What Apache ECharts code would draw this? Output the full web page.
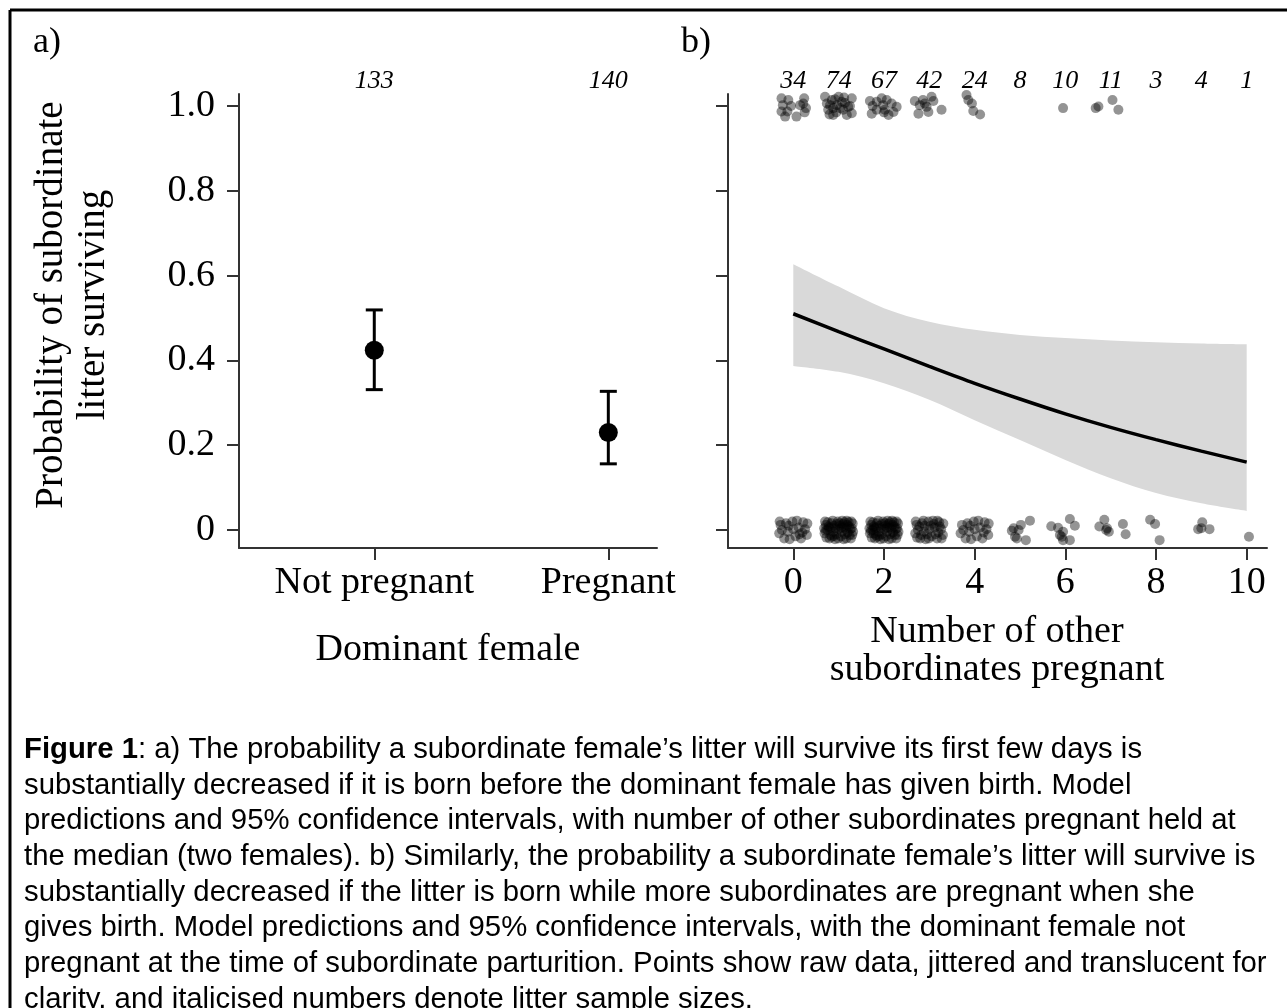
<!DOCTYPE html>
<html>
<head>
<meta charset="utf-8">
<script src="https://cdn.jsdelivr.net/npm/echarts@6/dist/echarts.min.js"></script>
<style>
  html, body { margin: 0; padding: 0; background: #fff; }
  #chart { width: 1287px; height: 1008px; }
</style>
</head>
<body>
<div id="chart"></div>
<script>
// a) dominant female status
const domCats = ['Not pregnant', 'Pregnant'];
const domSizes = [133, 140];
const domFit = [0.424, 0.230];
const domLow = [0.331, 0.156];
const domHigh = [0.519, 0.327];

// b) number of other subordinates pregnant
const otherX = [0, 1, 2, 3, 4, 5, 6, 7, 8, 9, 10];
const otherSizes = [34, 74, 67, 42, 24, 8, 10, 11, 3, 4, 1];
const fitY = [0.510, 0.468, 0.427, 0.386, 0.346, 0.309, 0.274, 0.242, 0.213, 0.186, 0.160];
const bandHigh = [0.627, 0.574, 0.523, 0.491, 0.472, 0.460, 0.453, 0.447, 0.443, 0.440, 0.438];
const bandLow = [0.387, 0.373, 0.346, 0.307, 0.259, 0.212, 0.165, 0.122, 0.087, 0.063, 0.045];

// raw data, survived litters (y ~ 1), jittered positions
const survivedPts = [
  [-0.26, 1.018], [-0.23, 1.002], [-0.26, 0.987], [-0.13, 0.987], [-0.11, 1.014], [0.07, 0.975], [0.15, 1.002],
  [0.24, 1.018], [0.28, 0.995], [0.22, 1.006], [-0.18, 0.975], [0.25, 0.985], [-0.05, 1.000],
  [0.70, 1.022], [0.74, 1.006], [0.77, 0.991], [0.85, 1.014], [0.88, 0.979], [0.96, 1.002], [1.00, 1.022],
  [1.07, 1.010], [1.10, 0.991], [1.18, 0.979], [1.29, 1.018], [1.29, 0.983], [0.81, 1.002], [1.03, 0.995],
  [0.88, 0.995], [1.14, 1.007], [1.21, 0.998], [0.92, 1.016], [0.80, 0.980], [1.25, 1.000], [0.95, 0.985], [1.12, 1.020],
  [1.69, 1.012], [1.73, 0.982], [1.84, 1.010], [1.95, 1.018], [2.02, 0.991], [2.06, 1.014], [2.17, 1.006],
  [2.21, 0.986], [2.28, 0.998], [1.84, 0.991], [2.10, 0.979], [1.98, 1.002], [2.00, 0.985], [1.75, 1.000],
  [2.68, 1.012], [2.79, 1.002], [2.86, 1.014], [2.94, 0.998], [2.98, 0.986], [2.76, 0.982], [3.05, 1.022],
  [3.09, 1.012], [3.27, 0.991], [2.90, 1.006],
  [3.82, 1.026], [3.86, 1.014], [3.94, 1.006], [3.97, 0.988], [4.12, 0.980],
  [5.95, 0.995],
  [6.67, 0.995], [6.73, 0.999], [7.04, 1.014], [7.17, 0.991]
];

// raw data, litters that died (y ~ 0): dense groups x = 0..4 use the jitter table below
const diedDense = [21, 52, 53, 32, 19];
const jitter = [
  [-0.28, 0.012], [0.05, -0.015], [0.22, 0.018], [-0.12, -0.004], [0.30, -0.012], [-0.20, -0.020],
  [0.12, 0.006], [-0.02, 0.020], [-0.31, -0.008], [0.26, 0.002], [-0.08, -0.022], [0.17, -0.020],
  [-0.16, 0.016], [0.08, 0.022], [-0.25, 0.000], [0.31, 0.015], [0.00, 0.002], [-0.10, 0.010],
  [0.20, -0.006], [-0.30, 0.020], [0.14, -0.010], [-0.22, 0.008], [0.27, -0.020], [-0.05, -0.010],
  [0.10, 0.014], [-0.18, -0.012], [0.03, 0.010], [0.23, 0.008], [-0.27, -0.018], [-0.13, 0.022],
  [0.18, 0.022], [-0.01, -0.020], [0.29, 0.004], [-0.21, 0.004], [0.07, -0.004], [-0.32, 0.004],
  [0.16, 0.002], [-0.07, 0.004], [0.24, -0.012], [-0.15, -0.016], [0.11, -0.022], [-0.24, 0.018],
  [0.02, 0.016], [0.32, -0.004], [-0.10, -0.014], [0.19, 0.012], [-0.29, -0.002], [0.06, 0.006],
  [-0.17, 0.006], [0.28, 0.020], [-0.04, 0.014], [0.13, 0.018], [-0.23, -0.008]
];
// sparse groups x = 5..10, read point by point
const diedSparse = [
  [4.82, -0.002], [4.89, -0.016], [4.93, -0.020], [5.02, 0.012], [5.13, -0.024], [5.22, 0.022], [4.86, 0.004], [4.97, 0.000],
  [5.69, 0.009], [5.84, 0.005], [5.88, -0.012], [5.92, -0.016], [5.95, -0.004], [6.10, 0.026], [6.10, -0.024], [6.21, 0.010], [5.95, -0.024],
  [6.75, 0.008], [6.86, 0.024], [6.90, 0.000], [6.96, -0.004], [7.27, 0.014], [7.33, -0.010], [6.92, 0.004],
  [7.87, 0.024], [7.98, 0.014], [8.08, -0.024],
  [8.93, 0.002], [9.02, 0.018], [9.00, 0.004], [9.18, 0.002],
  [10.05, -0.016]
];

const serif = '"Liberation Serif", "Times New Roman", serif';
const sans = '"Liberation Sans", Arial, sans-serif';
const axisColor = '#333';
const yTicks = [0, 0.2, 0.4, 0.6, 0.8, 1.0];
const Y_MIN = -0.0425, Y_MAX = 1.0283;

const rawPts = survivedPts.slice();
diedDense.forEach((n, g) => {
  for (let k = 0; k < n; k++) rawPts.push([otherX[g] + jitter[k][0], jitter[k][1]]);
});
diedSparse.forEach(p => rawPts.push(p));

const captionLines = [
  '{b|Figure 1}: a) The probability a subordinate female\u2019s litter will survive its first few days is',
  'substantially decreased if it is born before the dominant female has given birth. Model',
  'predictions and 95% confidence intervals, with number of other subordinates pregnant held at',
  'the median (two females). b) Similarly, the probability a subordinate female\u2019s litter will survive is',
  'substantially decreased if the litter is born while more subordinates are pregnant when she',
  'gives birth. Model predictions and 95% confidence intervals, with the dominant female not',
  'pregnant at the time of subordinate parturition. Points show raw data, jittered and translucent for',
  'clarity, and italicised numbers denote litter sample sizes.'
];

// smooth edge through pixel points (Catmull-Rom as cubic bezier segments)
function curveTo(pts) {
  let d = '';
  for (let i = 0; i < pts.length - 1; i++) {
    const p0 = pts[i - 1] || pts[i], p1 = pts[i], p2 = pts[i + 1], p3 = pts[i + 2] || pts[i + 1];
    const c1 = [p1[0] + (p2[0] - p0[0]) / 6, p1[1] + (p2[1] - p0[1]) / 6];
    const c2 = [p2[0] - (p3[0] - p1[0]) / 6, p2[1] - (p3[1] - p1[1]) / 6];
    d += ` C${c1[0]},${c1[1]} ${c2[0]},${c2[1]} ${p2[0]},${p2[1]}`;
  }
  return d;
}

const chart = echarts.init(document.getElementById('chart'), null, { renderer: 'canvas' });

const bottomX = (gridIndex, min, max, values, fmt) => ({
  gridIndex, type: 'value', min, max, position: 'bottom',
  axisLine: { show: true, onZero: false, lineStyle: { color: axisColor, width: 2 } },
  axisTick: { show: true, length: 12, customValues: values, lineStyle: { color: axisColor, width: 2 } },
  axisLabel: { customValues: values, formatter: fmt, margin: 16, color: '#000', fontFamily: serif, fontSize: 38 },
  splitLine: { show: false }
});
const topX = (gridIndex, min, max, values, fmt) => ({
  gridIndex, type: 'value', min, max, position: 'top',
  axisLine: { show: false }, axisTick: { show: false },
  axisLabel: { customValues: values, formatter: fmt, margin: 0, color: '#000', fontFamily: serif, fontSize: 26, fontStyle: 'italic' },
  splitLine: { show: false }
});
const yAx = (gridIndex, showLabels) => ({
  gridIndex, type: 'value', min: Y_MIN, max: Y_MAX,
  axisLine: { show: true, onZero: false, lineStyle: { color: axisColor, width: 2 } },
  axisTick: { show: true, length: 12, customValues: yTicks, lineStyle: { color: axisColor, width: 2 } },
  axisLabel: { show: showLabels, customValues: yTicks, margin: 24, color: '#000', fontFamily: serif, fontSize: 38,
    formatter: v => (v === 0 ? '0' : v.toFixed(1)) },
  splitLine: { show: false }
});

chart.setOption({
  backgroundColor: '#fff',
  animation: false,
  grid: [
    { left: 239, top: 94, width: 418, height: 454 },
    { left: 728, top: 94, width: 539, height: 454 }
  ],
  xAxis: [
    bottomX(0, 0.422, 2.208, [1, 2], v => domCats[Math.round(v) - 1]),
    bottomX(1, -1.44, 10.448, [0, 2, 4, 6, 8, 10], v => String(v)),
    topX(0, 0.422, 2.208, [1, 2], v => String(domSizes[Math.round(v) - 1])),
    topX(1, -1.44, 10.448, otherX, v => String(otherSizes[Math.round(v)]))
  ],
  yAxis: [yAx(0, true), yAx(1, false)],
  series: [
    {
      type: 'custom', xAxisIndex: 0, yAxisIndex: 0, silent: true,
      data: domCats.map((c, i) => [i + 1, domLow[i], domHigh[i]]),
      renderItem(params, api) {
        const lo = api.coord([api.value(0), api.value(1)]);
        const hi = api.coord([api.value(0), api.value(2)]);
        const w = 8.5, st = { stroke: '#000', lineWidth: 3 };
        return { type: 'group', children: [
          { type: 'line', shape: { x1: lo[0], y1: lo[1], x2: hi[0], y2: hi[1] }, style: st },
          { type: 'line', shape: { x1: lo[0] - w, y1: lo[1], x2: lo[0] + w, y2: lo[1] }, style: st },
          { type: 'line', shape: { x1: hi[0] - w, y1: hi[1], x2: hi[0] + w, y2: hi[1] }, style: st }
        ] };
      }
    },
    {
      type: 'scatter', xAxisIndex: 0, yAxisIndex: 0, silent: true, z: 5,
      symbol: 'circle', symbolSize: 19, itemStyle: { color: '#000', opacity: 1 },
      data: domFit.map((v, i) => [i + 1, v])
    },
    {
      // 95% CI band: upper edge left to right, lower edge back
      type: 'custom', xAxisIndex: 1, yAxisIndex: 1, silent: true, z: 1,
      data: [0],
      renderItem(params, api) {
        const up = otherX.map((x, i) => api.coord([x, bandHigh[i]]));
        const lo = otherX.map((x, i) => api.coord([x, bandLow[i]])).reverse();
        const d = `M${up[0][0]},${up[0][1]}` + curveTo(up) + ` L${lo[0][0]},${lo[0][1]}` + curveTo(lo) + ' Z';
        return { type: 'path', shape: { pathData: d }, style: { fill: '#d9d9d9', stroke: null } };
      }
    },
    {
      type: 'line', xAxisIndex: 1, yAxisIndex: 1, silent: true, z: 4, smooth: 0.3,
      symbol: 'none', lineStyle: { color: '#000', width: 3.5 },
      data: otherX.map((x, i) => [x, fitY[i]])
    },
    {
      type: 'scatter', xAxisIndex: 1, yAxisIndex: 1, silent: true, z: 3, clip: false,
      symbol: 'circle', symbolSize: 10, itemStyle: { color: '#000', opacity: 0.42 },
      data: rawPts
    }
  ],
  graphic: [
    { type: 'line', shape: { x1: 10, y1: 10, x2: 1287, y2: 10 }, style: { stroke: '#000', lineWidth: 3 } },
    { type: 'line', shape: { x1: 10, y1: 10, x2: 10, y2: 1008 }, style: { stroke: '#000', lineWidth: 3 } },
    { type: 'text', left: 33, top: 25, style: { text: 'a)', fontFamily: serif, fontSize: 36, fill: '#000' } },
    { type: 'text', left: 681, top: 25, style: { text: 'b)', fontFamily: serif, fontSize: 36, fill: '#000' } },
    {
      type: 'text', x: 73, y: 305, rotation: Math.PI / 2,
      style: { text: 'Probability of subordinate\nlitter surviving', fontFamily: serif, fontSize: 39, lineHeight: 42,
        align: 'center', verticalAlign: 'middle', fill: '#000' }
    },
    {
      type: 'text', x: 448, y: 650,
      style: { text: 'Dominant female', fontFamily: serif, fontSize: 38, align: 'center', verticalAlign: 'middle', fill: '#000' }
    },
    {
      type: 'text', x: 997, y: 651,
      style: { text: 'Number of other\nsubordinates pregnant', fontFamily: serif, fontSize: 38, lineHeight: 38,
        align: 'center', verticalAlign: 'middle', fill: '#000' }
    },
    {
      type: 'text', left: 24, top: 732,
      style: {
        text: captionLines.join('\n'), fontFamily: sans, fontSize: 29.3, lineHeight: 35.7, fill: '#000',
        rich: { b: { fontFamily: sans, fontSize: 29.3, fontWeight: 'bold', lineHeight: 35.7 } }
      }
    }
  ]
});
</script>
</body>
</html>
